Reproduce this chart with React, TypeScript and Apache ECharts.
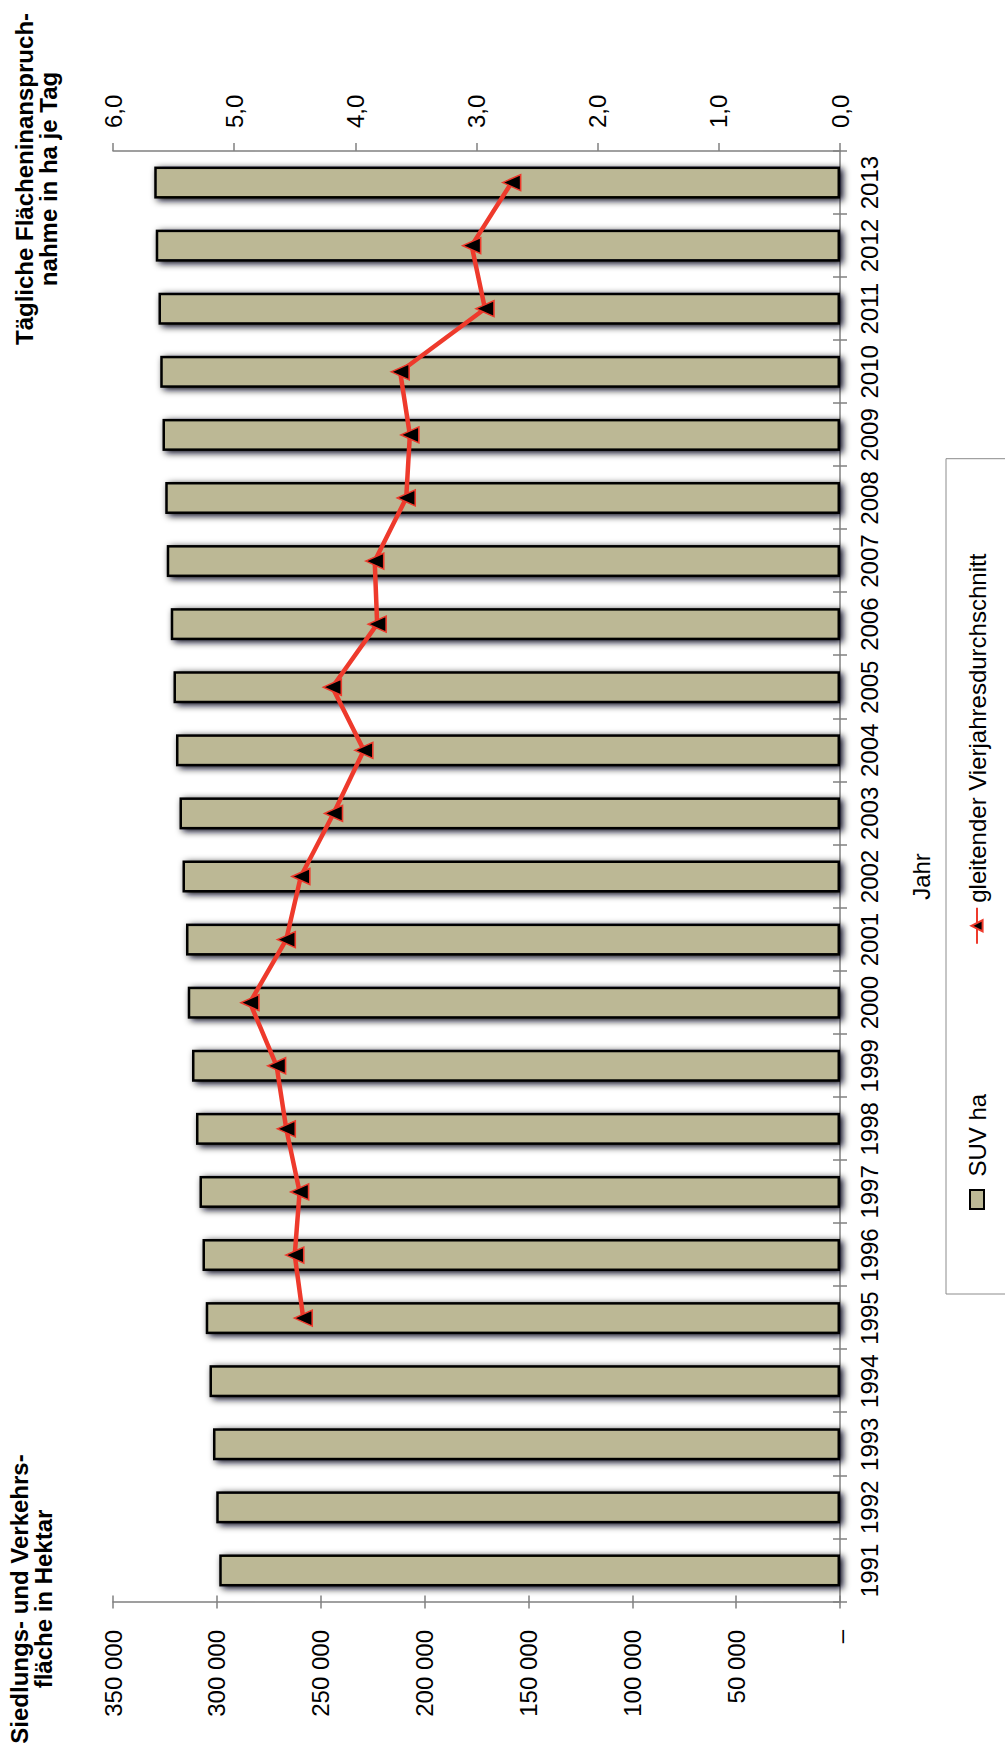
import React, { useEffect, useRef } from "react";
import * as echarts from "echarts";

// Data
const years = [
  "1991", "1992", "1993", "1994", "1995", "1996", "1997", "1998", "1999", "2000",
  "2001", "2002", "2003", "2004", "2005", "2006", "2007", "2008", "2009", "2010",
  "2011", "2012", "2013",
];
const suvHa = [
  298900, 300300, 301900, 303600, 305300, 306900, 308400, 310100, 312000, 314000,
  314900, 316600, 318000, 319700, 320900, 322200, 324100, 324900, 326200, 327300,
  328100, 329400, 330200,
];
const movingAvg4 = [
  null, null, null, null, 4.43, 4.5, 4.46, 4.57, 4.65, 4.87,
  4.57, 4.45, 4.18, 3.93, 4.19, 3.82, 3.84, 3.58, 3.55, 3.63,
  2.93, 3.04, 2.71,
];
const leftTicks = { min: 0, max: 350000, interval: 50000 };
const rightTicks = { min: 0, max: 6, interval: 1 };

const FONT = '"Liberation Sans", Arial, sans-serif';
const AXIS_GRAY = "#808080";
const RED = "#EE3A2C";

function fmtThousands(v: number): string {
  if (v === 0) return "–";
  return String(Math.round(v)).replace(/\B(?=(\d{3})+(?!\d))/g, " ");
}
function fmtDecimal(v: number): string {
  return v.toFixed(1).replace(".", ",");
}

export default function App() {
  const ref = useRef<HTMLDivElement>(null);
  useEffect(() => {
    if (!ref.current) return;
    const chart = echarts.init(ref.current, null, { renderer: "svg", width: 1749, height: 1005 });
    const axisLineStyle = { color: AXIS_GRAY, width: 1.5 };
    const option: any = {
      animation: false,
      backgroundColor: "#ffffff",
      textStyle: { fontFamily: FONT, color: "#000" },
      grid: { left: 147, right: 151, top: 113, bottom: 165, containLabel: false },
      xAxis: [
        {
          type: "category",
          data: years,
          position: "bottom",
          axisLine: { show: true, lineStyle: axisLineStyle },
          axisTick: { show: true, length: 7, lineStyle: axisLineStyle },
          axisLabel: { color: "#000", fontSize: 24, fontFamily: FONT, margin: 17, interval: 0 },
          name: "Jahr",
          nameLocation: "middle",
          nameGap: 69,
          nameTextStyle: { fontSize: 24, color: "#000", fontFamily: FONT },
          splitLine: { show: false },
        },
        {
          type: "category",
          data: years,
          position: "bottom",
          axisLine: { show: false },
          axisTick: { show: true, inside: true, length: 7, lineStyle: axisLineStyle },
          axisLabel: { show: false },
          splitLine: { show: false },
        },
      ],
      yAxis: [
        {
          type: "value",
          ...leftTicks,
          position: "left",
          axisLine: { show: true, lineStyle: axisLineStyle },
          axisTick: { show: true, length: 6.5, lineStyle: axisLineStyle },
          axisLabel: { color: "#000", fontSize: 24, fontFamily: FONT, margin: 28, formatter: fmtThousands },
          splitLine: { show: false },
        },
        {
          type: "value",
          ...rightTicks,
          position: "right",
          axisLine: { show: true, lineStyle: axisLineStyle },
          axisTick: { show: true, length: 8, lineStyle: axisLineStyle },
          axisLabel: { color: "#000", fontSize: 24, fontFamily: FONT, margin: 23, formatter: fmtDecimal },
          splitLine: { show: false },
        },
        {
          type: "value",
          ...leftTicks,
          position: "left",
          axisLine: { show: false },
          axisTick: { show: true, inside: true, length: 6.5, lineStyle: axisLineStyle },
          axisLabel: { show: false },
          splitLine: { show: false },
        },
      ],
      legend: {
        left: 455,
        top: 946,
        orient: "horizontal",
        itemWidth: 36,
        itemHeight: 14,
        itemGap: 149,
        padding: [19, 95, 40, 84],
        borderColor: "#8c8c8c",
        borderWidth: 1,
        backgroundColor: "#ffffff",
        textStyle: { fontSize: 24, color: "#000", fontFamily: FONT },
        data: [
          { name: "SUV ha", icon: "path://M0,0H19V14H0Z", itemStyle: { shadowBlur: 0, shadowColor: "transparent" } },
          { name: "gleitender Vierjahresdurchschnitt" },
        ],
      },
      series: [
        {
          name: "SUV ha",
          type: "bar",
          data: suvHa,
          xAxisIndex: 0,
          yAxisIndex: 0,
          barWidth: 32,
          itemStyle: {
            color: "#BCB895",
            borderColor: "#000",
            borderWidth: 2.5,
            shadowBlur: 7,
            shadowColor: "rgba(0,0,25,1)",
            shadowOffsetX: -2,
            shadowOffsetY: 3,
          },
        },
        {
          name: "gleitender Vierjahresdurchschnitt",
          type: "line",
          data: movingAvg4,
          xAxisIndex: 0,
          yAxisIndex: 1,
          symbol: "triangle",
          symbolSize: [16, 18],
          showAllSymbol: true,
          lineStyle: { color: RED, width: 4.5 },
          itemStyle: { color: "#000", borderColor: RED, borderWidth: 1.5 },
          z: 5,
        },
      ],
      graphic: [
        {
          type: "text",
          x: 150,
          y: 7,
          style: {
            text: "Siedlungs- und Verkehrs-\nfläche in Hektar",
            font: `bold 24px ${FONT}`,
            fill: "#000",
            align: "center",
            textAlign: "center",
            verticalAlign: "top",
            textVerticalAlign: "top",
            lineHeight: 24,
          },
        },
        {
          type: "text",
          x: 1570,
          y: 12,
          style: {
            text: "Tägliche Flächeninanspruch-\nnahme in ha je Tag",
            font: `bold 24px ${FONT}`,
            fill: "#000",
            align: "center",
            textAlign: "center",
            verticalAlign: "top",
            textVerticalAlign: "top",
            lineHeight: 24,
          },
        },
      ],
    };
    chart.setOption(option);
    return () => chart.dispose();
  }, []);

  return (
    <div
      style={{
        position: "absolute",
        left: 0,
        top: 0,
        width: 1005,
        height: 1749,
        overflow: "hidden",
        background: "#ffffff",
      }}
    >
      <div
        ref={ref}
        style={{
          position: "absolute",
          left: 0,
          top: 0,
          width: 1749,
          height: 1005,
          transform: "translateY(1749px) rotate(-90deg)",
          transformOrigin: "0 0",
        }}
      />
    </div>
  );
}
